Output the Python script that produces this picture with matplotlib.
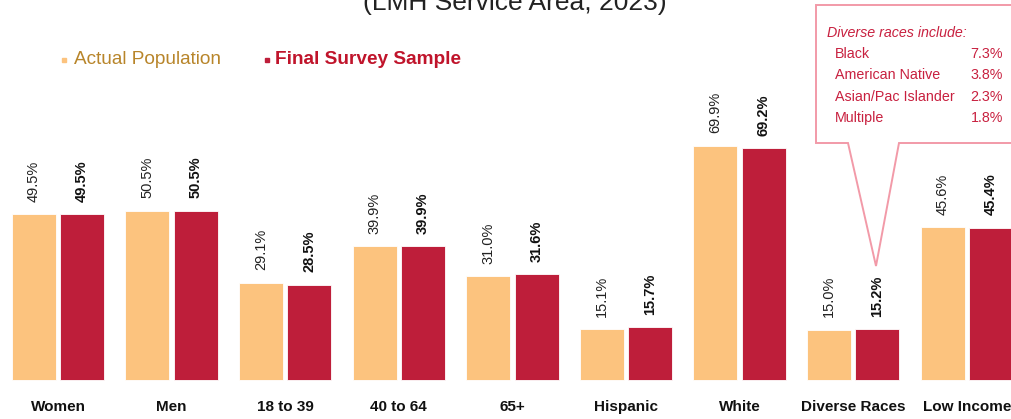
import matplotlib
matplotlib.use("Agg")
import matplotlib.pyplot as plt
import numpy as np
from matplotlib.patches import Polygon

categories = ["Women", "Men", "18 to 39", "40 to 64", "65+", "Hispanic", "White", "Diverse Races", "Low Income"]
actual = [49.5, 50.5, 29.1, 39.9, 31.0, 15.1, 69.9, 15.0, 45.6]
survey = [49.5, 50.5, 28.5, 39.9, 31.6, 15.7, 69.2, 15.2, 45.4]

race_names = ["Black", "American Native", "Asian/Pac Islander", "Multiple"]
race_pcts = [7.3, 3.8, 2.3, 1.8]

ACTUAL_COLOR = "#FCC37E"
SURVEY_COLOR = "#BE1E3A"
ACTUAL_TEXT = "#B8852A"
SURVEY_TEXT = "#C0142B"
CALLOUT_TEXT = "#C8203F"
CALLOUT_EDGE = "#F29AA8"

FONT = ["Liberation Sans", "DejaVu Sans"]

W, H = 1012, 419
fig = plt.figure(figsize=(W / 100, H / 100), dpi=100)

# main axes: group spacing ~113.6 px, baseline at y=380 px, ~3.35 px per percent
ax = fig.add_axes([0, 0, 1, 1])
spacing = 113.6
ax.set_xlim(-58 / spacing, (W - 58) / spacing)
ppu = 3.35
ax.set_ylim(-(H - 380) / ppu, 380 / ppu)
ax.axis("off")

x = np.arange(len(categories))
bw = 44 / spacing
off = 24.25 / spacing
ax.bar(x - off, actual, bw, color=ACTUAL_COLOR, edgecolor="white", linewidth=0.6)
ax.bar(x + off, survey, bw, color=SURVEY_COLOR, edgecolor="white", linewidth=0.6)

for xi, a, s in zip(x, actual, survey):
    ax.annotate(f"{a:.1f}%", (xi - off, a), xytext=(0, 9), textcoords="offset points",
                rotation=90, ha="center", va="bottom", fontsize=10.5, family=FONT, color="#222222")
    ax.annotate(f"{s:.1f}%", (xi + off, s), xytext=(0, 9), textcoords="offset points",
                rotation=90, ha="center", va="bottom", fontsize=10.5, family=FONT,
                fontweight="bold", color="#111111")

for xi, c in zip(x, categories):
    ax.text(xi, (H - 407) / H, c, transform=ax.get_xaxis_transform(), ha="center", va="center",
            fontsize=11, fontweight="bold", family=FONT, color="#111111")

# overlay in pixel coordinates for title, legend and callout
ov = fig.add_axes([0, 0, 1, 1], zorder=5)
ov.set_xlim(0, W)
ov.set_ylim(H, 0)
ov.axis("off")
ov.patch.set_alpha(0)

ov.text(515, 10, "(LMH Service Area, 2023)", ha="center", va="baseline", fontsize=19,
        family=FONT, color="#222222")

ov.plot([64], [60], marker="s", markersize=3.2, color=ACTUAL_COLOR, linestyle="none")
ov.text(74, 60, "Actual Population", ha="left", va="center", fontsize=13.7, family=FONT, color=ACTUAL_TEXT)
ov.plot([267], [60], marker="s", markersize=3.2, color=SURVEY_COLOR, linestyle="none")
ov.text(275, 60, "Final Survey Sample", ha="left", va="center", fontsize=13.7, family=FONT,
        fontweight="bold", color=SURVEY_TEXT)

callout = Polygon([(816, 5), (1030, 5), (1030, 143), (899, 143), (876, 266), (848, 143), (816, 143)],
                  closed=True, facecolor="white", edgecolor=CALLOUT_EDGE, linewidth=1.4)
ov.add_patch(callout)
ov.text(827, 33, "Diverse races include:", ha="left", va="center", fontsize=10.3, style="italic",
        family=FONT, color=CALLOUT_TEXT)
for i, (name, pct) in enumerate(zip(race_names, race_pcts)):
    y = 54 + i * 21.4
    ov.text(835, y, name, ha="left", va="center", fontsize=10.3, family=FONT, color=CALLOUT_TEXT)
    ov.text(1003, y, f"{pct:.1f}%", ha="right", va="center", fontsize=10.3, family=FONT, color=CALLOUT_TEXT)

fig.savefig("out.png", dpi=100)
